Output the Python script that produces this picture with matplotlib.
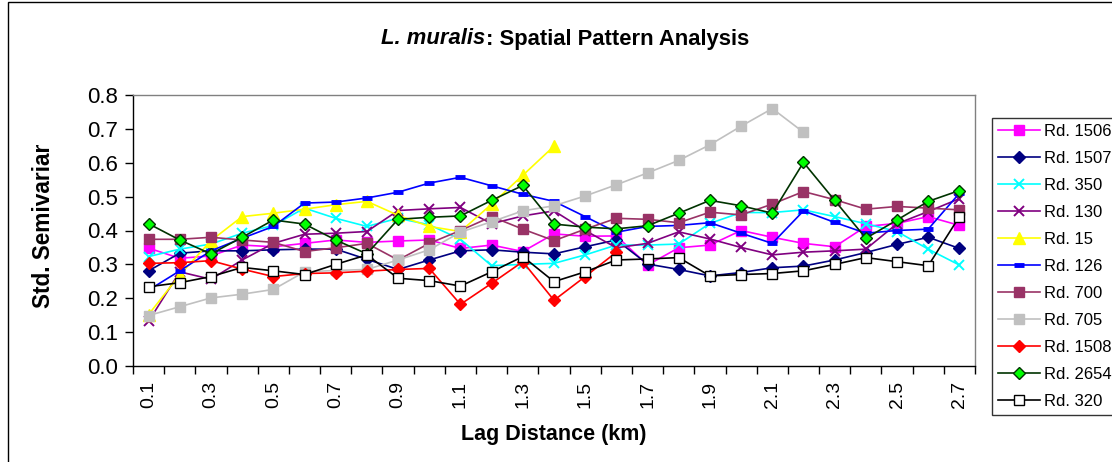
import numpy as np
import matplotlib
matplotlib.use("Agg")
import matplotlib.pyplot as plt
from matplotlib.offsetbox import TextArea, HPacker, AnchoredOffsetbox
from matplotlib.transforms import Bbox
from matplotlib.patches import Rectangle

nan = np.nan
lags = ["0.1", "0.2", "0.3", "0.4", "0.5", "0.6", "0.7", "0.8", "0.9", "1.0",
        "1.1", "1.2", "1.3", "1.4", "1.5", "1.6", "1.7", "1.8", "1.9", "2.0",
        "2.1", "2.2", "2.3", "2.4", "2.5", "2.6", "2.7"]

rd1506 = [0.348, 0.318, 0.325, 0.357, 0.352, 0.362, 0.372, 0.365, 0.369, 0.372, 0.347, 0.357, 0.338, 0.39,
          0.383, 0.384, 0.298, 0.349, 0.357, 0.40, 0.38, 0.362, 0.352, 0.412, 0.421, 0.441, 0.415]
rd1507 = [0.281, 0.333, 0.34, 0.34, 0.343, 0.345, 0.345, 0.315, 0.285, 0.313, 0.34, 0.343, 0.336, 0.331,
          0.352, 0.372, 0.301, 0.285, 0.266, 0.276, 0.29, 0.295, 0.313, 0.335, 0.359, 0.38, 0.347]
rd350 = [0.323, 0.345, 0.36, 0.392, 0.415, 0.466, 0.436, 0.412, 0.436, 0.417, 0.374, 0.296, 0.30, 0.303,
         0.328, 0.357, 0.357, 0.36, 0.421, 0.453, 0.453, 0.461, 0.441, 0.42, 0.397, 0.345, 0.298]
rd130 = [0.132, 0.278, 0.256, 0.313, 0.362, 0.389, 0.392, 0.397, 0.459, 0.464, 0.468, 0.42, 0.443, 0.458,
         0.40, 0.349, 0.362, 0.396, 0.375, 0.35, 0.328, 0.336, 0.34, 0.345, 0.42, 0.456, 0.494]
rd15 = [0.152, 0.269, 0.37, 0.441, 0.451, 0.463, 0.476, 0.486, 0.445, 0.412, 0.397, 0.478, 0.563, 0.649,
        nan, nan, nan, nan, nan, nan, nan, nan, nan, nan, nan, nan, nan]
rd126 = [0.224, 0.281, 0.34, 0.377, 0.412, 0.481, 0.484, 0.496, 0.513, 0.54, 0.557, 0.532, 0.507, 0.486,
         0.441, 0.395, 0.412, 0.415, 0.423, 0.392, 0.362, 0.458, 0.424, 0.392, 0.40, 0.404, 0.51]
rd700 = [0.374, 0.374, 0.38, 0.372, 0.365, 0.338, 0.349, 0.362, 0.313, 0.362, 0.40, 0.441, 0.404, 0.37,
         0.404, 0.436, 0.433, 0.423, 0.454, 0.446, 0.478, 0.515, 0.491, 0.463, 0.471, 0.466, 0.461]
rd705 = [0.149, 0.175, 0.201, 0.212, 0.226, 0.278, 0.282, 0.285, 0.313, 0.343, 0.395, 0.426, 0.458, 0.473,
         0.502, 0.535, 0.57, 0.607, 0.653, 0.708, 0.76, 0.69, nan, nan, nan, nan, nan]
rd1508 = [0.303, 0.305, 0.311, 0.286, 0.264, 0.273, 0.275, 0.28, 0.285, 0.288, 0.182, 0.244, 0.308, 0.194,
          0.264, 0.336, nan, nan, nan, nan, nan, nan, nan, nan, nan, nan, nan]
rd2654 = [0.42, 0.372, 0.331, 0.38, 0.431, 0.419, 0.372, 0.331, 0.433, 0.439, 0.443, 0.489, 0.533, 0.419,
          0.41, 0.405, 0.414, 0.451, 0.489, 0.473, 0.451, 0.601, 0.489, 0.377, 0.431, 0.486, 0.518]
rd320 = [0.234, 0.246, 0.264, 0.291, 0.281, 0.27, 0.30, 0.328, 0.259, 0.252, 0.236, 0.278, 0.323, 0.249,
         0.278, 0.313, 0.316, 0.32, 0.266, 0.27, 0.273, 0.281, 0.30, 0.32, 0.308, 0.296, 0.441]

series_names = ["Rd. 1506", "Rd. 1507", "Rd. 350", "Rd. 130", "Rd. 15", "Rd. 126",
                "Rd. 700", "Rd. 705", "Rd. 1508", "Rd. 2654", "Rd. 320"]
series_values = [rd1506, rd1507, rd350, rd130, rd15, rd126, rd700, rd705, rd1508, rd2654, rd320]

styles = [
    dict(color="#FF00FF", marker="s", ms=6.5, mfc="#FF00FF", mec="#FF00FF"),
    dict(color="#000080", marker="D", ms=6, mfc="#000080", mec="#000080"),
    dict(color="#00FFFF", marker="x", ms=7, mew=1.4, mec="#00FFFF"),
    dict(color="#800080", marker="x", ms=7, mew=1.4, mec="#800080"),
    dict(color="#FFFF00", marker="^", ms=8, mfc="#FFFF00", mec="#FFFF00"),
    dict(color="#0000FF", marker="_", ms=7, mew=3.5, mec="#0000FF"),
    dict(color="#993366", marker="s", ms=6.5, mfc="#993366", mec="#993366"),
    dict(color="#C0C0C0", marker="s", ms=6.5, mfc="#C0C0C0", mec="#C0C0C0"),
    dict(color="#FF0000", marker="D", ms=6, mfc="#FF0000", mec="#FF0000"),
    dict(color="#003300", marker="D", ms=6.5, mfc="#00FF00", mec="#003300", mew=1.0),
    dict(color="#000000", marker="s", ms=6.5, mfc="#FFFFFF", mec="#000000", mew=1.0),
]

FONT = "Liberation Sans"
W, H = 1112, 462
fig = plt.figure(figsize=(W / 100, H / 100), dpi=100)
fig.patch.set_facecolor("white")

# chart-area border (left and top visible)
fig.add_artist(Rectangle((8 / W, -0.1), 1.2, 1.1 - 2 / H, transform=fig.transFigure,
                         fill=False, edgecolor="#000000", linewidth=1.0))

ax = fig.add_axes([133 / W, (H - 366) / H, (975 - 133) / W, (366 - 95) / H])
x = np.arange(len(lags))
for name, vals, st in zip(series_names, series_values, styles):
    ax.plot(x, vals, label=name, linewidth=1.2, **st)

ax.set_xlim(-0.5, len(lags) - 0.5)
ax.set_ylim(0, 0.8)
ax.set_yticks(np.arange(0, 0.81, 0.1))
ax.set_yticklabels([f"{v:.1f}" for v in np.arange(0, 0.81, 0.1)], fontfamily=FONT, fontsize=16)
ax.tick_params(axis="y", direction="out", length=6, width=1, pad=5, colors="black")

ax.set_xticks(np.arange(-0.5, len(lags), 1.0))
ax.set_xticklabels([])
ax.tick_params(axis="x", which="major", direction="out", length=6, width=1)
ax.set_xticks(x[::2], minor=True)
ax.set_xticklabels(lags[::2], minor=True, rotation=90, fontfamily=FONT, fontsize=14)
ax.tick_params(axis="x", which="minor", length=0, pad=11)

for s in ["left", "bottom"]:
    ax.spines[s].set_color("black")
    ax.spines[s].set_linewidth(1.0)
for s in ["top", "right"]:
    ax.spines[s].set_color("#808080")
    ax.spines[s].set_linewidth(1.0)

ax.set_xlabel("Lag Distance (km)", fontfamily=FONT, fontweight="bold", fontsize=15.5, labelpad=11)

# y axis title, clipped as in the original
yt = fig.text(43.5 / W, (H - 308) / H, "Std. Semivariance", rotation=90, ha="center", va="bottom",
              fontfamily=FONT, fontweight="bold", fontsize=16.3)
yt.set_clip_box(Bbox([[0, 0], [W, H - 145]]))
yt.set_clip_on(True)

# title
t1 = TextArea("L. muralis", textprops=dict(fontfamily=FONT, fontstyle="italic", fontweight="bold", fontsize=15.8))
t2 = TextArea(": Spatial Pattern Analysis", textprops=dict(fontfamily=FONT, fontweight="bold", fontsize=15.8))
box = HPacker(children=[t1, t2], align="baseline", pad=0, sep=0)
anch = AnchoredOffsetbox(loc="center", child=box, pad=0, borderpad=0, frameon=False,
                         bbox_to_anchor=(565 / W, 1 - 39 / H), bbox_transform=fig.transFigure)
fig.add_artist(anch)

leg = fig.legend(loc="upper left", bbox_to_anchor=(992 / W, 1 - 118 / H),
                 prop=dict(family=FONT, size=12), frameon=True, fancybox=False,
                 edgecolor="black", handlelength=2.5, handletextpad=0.25,
                 labelspacing=0.72, borderpad=0.35, borderaxespad=0)
leg.get_frame().set_linewidth(1.0)

fig.savefig("out.png", dpi=100)
